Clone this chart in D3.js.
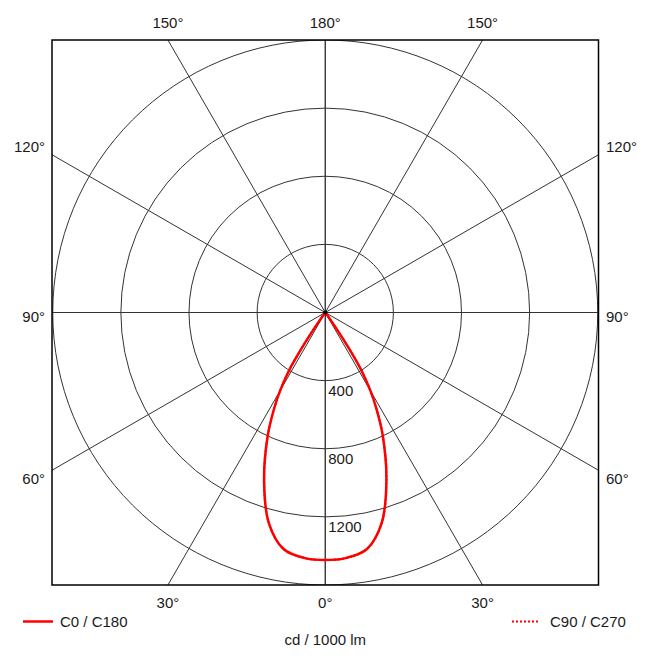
<!DOCTYPE html>
<html>
<head>
<meta charset="utf-8">
<script src="https://cdn.jsdelivr.net/npm/d3@7"></script>
<style>
  html, body { margin: 0; padding: 0; background: #fff; }
  svg { display: block; }
  text { font-family: "Liberation Sans", Arial, sans-serif; font-size: 15px; fill: #1a1a1a; }
</style>
</head>
<body>
<svg id="chart" width="649" height="662"></svg>
<script>
// ---- data ----
const gammaAngles = [0, 5, 10, 15, 20, 25, 28, 30, 32, 33, 34, 35, 37, 40, 45, 60, 90, 120, 150, 180];
const c0c180 =      [1453, 1446, 1410, 1280, 1050, 800, 640, 530, 400, 300, 180, 80, 20, 5, 0, 0, 0, 0, 0, 0];
const c90c270 =     [1453, 1446, 1410, 1280, 1050, 800, 640, 530, 400, 300, 180, 80, 20, 5, 0, 0, 0, 0, 0, 0];
const ringValues = [400, 800, 1200, 1600];
const ringLabels = ["400", "800", "1200"];
const spokeAngles = [0, 30, 60, 90, 120, 150, 180];
const topLabels = ["150°", "180°", "150°"];
const bottomLabels = ["30°", "0°", "30°"];
const sideLabels = ["120°", "90°", "60°"];
const seriesNames = ["C0 / C180", "C90 / C270"];
const unitLabel = "cd / 1000 lm";

// ---- layout ----
const svg = d3.select("#chart");
const frame = { x0: 52, y0: 40, x1: 598.5, y1: 585 };
const cx = (frame.x0 + frame.x1) / 2, cy = (frame.y0 + frame.y1) / 2;
const R = (frame.y1 - frame.y0) / 2;
const r = d3.scaleLinear().domain([0, 1600]).range([0, R]);
const toRad = d => d * Math.PI / 180;

svg.append("defs").append("clipPath").attr("id", "clip")
  .append("rect").attr("x", frame.x0).attr("y", frame.y0)
  .attr("width", frame.x1 - frame.x0).attr("height", frame.y1 - frame.y0);

const grid = svg.append("g").attr("clip-path", "url(#clip)");
// rings
grid.selectAll("circle.ring").data(ringValues).enter().append("circle")
  .attr("cx", cx).attr("cy", cy).attr("r", d => r(d))
  .attr("fill", "none").attr("stroke", "#333").attr("stroke-width", 1);
// spokes (gamma measured from straight down), both sides
const L = 1000;
spokeAngles.forEach(g => {
  [-1, 1].forEach(s => {
    const a = toRad(g);
    grid.append("line")
      .attr("x1", cx).attr("y1", cy)
      .attr("x2", cx + s * L * Math.sin(a)).attr("y2", cy + L * Math.cos(a))
      .attr("stroke", "#333").attr("stroke-width", 1);
  });
});

// ring labels
svg.selectAll("text.ringlab").data(ringLabels).enter().append("text")
  .attr("x", cx + 3).attr("y", (d, i) => cy + r(ringValues[i]) + 15)
  .text(d => d);

// curves
function curvePoints(vals) {
  const pts = [];
  for (let i = gammaAngles.length - 1; i >= 0; i--) pts.push([Math.PI + toRad(gammaAngles[i]), r(vals[i])]);
  for (let i = 1; i < gammaAngles.length; i++) pts.push([Math.PI - toRad(gammaAngles[i]), r(vals[i])]);
  return pts;
}
const radial = d3.lineRadial().angle(d => d[0]).radius(d => d[1]).curve(d3.curveCatmullRom.alpha(0.5));
const curves = svg.append("g").attr("transform", `translate(${cx},${cy})`);
curves.append("path").attr("d", radial(curvePoints(c0c180)))
  .attr("fill", "none").attr("stroke", "#ff0000").attr("stroke-width", 2.5);
curves.append("path").attr("d", radial(curvePoints(c90c270)))
  .attr("fill", "none").attr("stroke", "#ff0000").attr("stroke-width", 2).attr("stroke-dasharray", "2,2");
// center dot
svg.append("circle").attr("cx", cx).attr("cy", cy).attr("r", 2).attr("fill", "#000");

// frame
svg.append("rect").attr("x", frame.x0).attr("y", frame.y0)
  .attr("width", frame.x1 - frame.x0).attr("height", frame.y1 - frame.y0)
  .attr("fill", "none").attr("stroke", "#000").attr("stroke-width", 1.5);

// angle labels
const off = R * Math.tan(toRad(30));
const xs = [cx - off, cx, cx + off];
svg.selectAll("text.top").data(topLabels).enter().append("text")
  .attr("x", (d, i) => xs[i]).attr("y", 28).attr("text-anchor", "middle").text(d => d);
svg.selectAll("text.bot").data(bottomLabels).enter().append("text")
  .attr("x", (d, i) => xs[i]).attr("y", 608).attr("text-anchor", "middle").text(d => d);
const sideY = [152, 322, 484];
svg.selectAll("text.left").data(sideLabels).enter().append("text")
  .attr("x", 45).attr("y", (d, i) => sideY[i]).attr("text-anchor", "end").text(d => d);
svg.selectAll("text.right").data(sideLabels).enter().append("text")
  .attr("x", 606).attr("y", (d, i) => sideY[i]).attr("text-anchor", "start").text(d => d);

// legend
svg.append("line").attr("x1", 23).attr("x2", 53).attr("y1", 621.5).attr("y2", 621.5)
  .attr("stroke", "#ff0000").attr("stroke-width", 2.5);
svg.append("text").attr("x", 60).attr("y", 627).text(seriesNames[0]);
svg.append("line").attr("x1", 512).attr("x2", 540).attr("y1", 621.5).attr("y2", 621.5)
  .attr("stroke", "#ff0000").attr("stroke-width", 2).attr("stroke-dasharray", "2,2");
svg.append("text").attr("x", 550).attr("y", 627).text(seriesNames[1]);
svg.append("text").attr("x", cx).attr("y", 645).attr("text-anchor", "middle").text(unitLabel);
</script>
</body>
</html>
